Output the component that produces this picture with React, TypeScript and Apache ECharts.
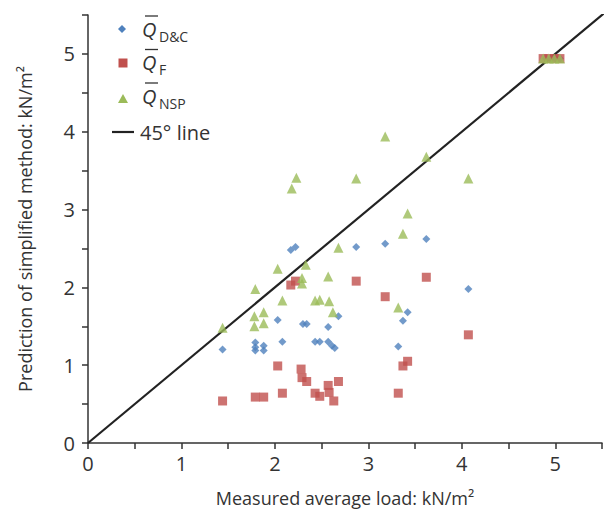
import React, { useEffect, useRef } from "react";
import * as echarts from "echarts";

const FONT = "'Open Sans', 'Noto Sans', sans-serif";
const TEXT = "#333333";
const BLUE = "#4f81bd";
const RED = "#c0504d";
const GREEN = "#9bbb59";

const xTicks = [0, 1, 2, 3, 4, 5];
const yTicks = [0, 1, 2, 3, 4, 5];

const dcPoints: [number, number][] = [
  [1.44, 1.2], [1.79, 1.29], [1.79, 1.23], [1.79, 1.19], [1.88, 1.25], [1.88, 1.19],
  [2.03, 1.58], [2.08, 1.3], [2.17, 2.48], [2.22, 2.52], [2.3, 1.53], [2.34, 1.53],
  [2.43, 1.3], [2.48, 1.3], [2.57, 1.49], [2.57, 1.3], [2.61, 1.25], [2.64, 1.22],
  [2.68, 1.63], [2.87, 2.52], [3.18, 2.56], [3.32, 1.24], [3.37, 1.57], [3.42, 1.68],
  [3.62, 2.62], [4.07, 1.98], [4.9, 4.94], [4.95, 4.94], [5.0, 4.94], [5.05, 4.94],
];

const fPoints: [number, number][] = [
  [1.44, 0.54], [1.79, 0.59], [1.88, 0.59], [2.03, 0.99], [2.08, 0.64], [2.17, 2.03],
  [2.22, 2.08], [2.28, 0.95], [2.29, 0.84], [2.34, 0.79], [2.43, 0.64], [2.48, 0.6],
  [2.57, 0.74], [2.58, 0.65], [2.63, 0.54], [2.68, 0.79], [2.87, 2.08], [3.18, 1.88],
  [3.32, 0.64], [3.37, 0.99], [3.42, 1.05], [3.62, 2.13], [4.07, 1.39],
  [4.87, 4.94], [4.93, 4.94], [4.99, 4.94], [5.05, 4.94],
];

const nspPoints: [number, number][] = [
  [1.44, 1.48], [1.78, 1.63], [1.78, 1.5], [1.79, 1.98], [1.88, 1.68], [1.88, 1.54],
  [2.03, 2.24], [2.08, 1.83], [2.18, 3.27], [2.23, 3.41], [2.29, 2.12], [2.29, 2.05],
  [2.33, 2.29], [2.43, 1.83], [2.48, 1.84], [2.57, 2.14], [2.58, 1.82], [2.62, 1.68],
  [2.68, 2.51], [2.87, 3.4], [3.18, 3.94], [3.32, 1.74], [3.37, 2.69], [3.42, 2.95],
  [3.62, 3.68], [4.07, 3.4], [4.87, 4.94], [4.93, 4.94], [4.99, 4.94], [5.05, 4.94],
];

const lineRange: [number, number][] = [[0, 0], [5.6, 5.6]];

const legendRows = [
  { sub: "D&C", y: 29 },
  { sub: "F", y: 62.5 },
  { sub: "NSP", y: 96 },
];

function intLabel(v: number, ticks: number[]) {
  return ticks.includes(v) ? String(v) : "";
}

export default function App() {
  const ref = useRef<HTMLDivElement>(null);
  useEffect(() => {
    const chart = echarts.init(ref.current!, null, { renderer: "svg" });
    const axisCommon = {
      type: "value" as const,
      min: 0,
      max: 5.5,
      interval: 0.5,
      nameLocation: "middle" as const,
      nameTextStyle: { fontFamily: FONT, fontSize: 18, color: TEXT },
      axisLine: { show: true, lineStyle: { color: "#333", width: 1.5 } },
      axisTick: { show: true, length: 6, lineStyle: { color: "#333", width: 1.5 } },
      splitLine: { show: false },
    };
    const legendGraphics: any[] = [];
    legendRows.forEach((r) => {
      legendGraphics.push({
        type: "text",
        x: 142,
        y: r.y,
        style: { text: "Q", fontFamily: FONT, fontSize: 20, fontStyle: "italic", fill: TEXT, verticalAlign: "middle" },
      });
      legendGraphics.push({
        type: "text",
        x: 159,
        y: r.y + 7,
        style: { text: r.sub, fontFamily: FONT, fontSize: 14, fill: TEXT, verticalAlign: "middle" },
      });
      legendGraphics.push({
        type: "line",
        shape: { x1: 145, y1: r.y - 13, x2: 158, y2: r.y - 13 },
        style: { stroke: TEXT, lineWidth: 1.3 },
      });
    });
    legendGraphics.push(
      { type: "polygon", shape: { points: [[122, 25], [126, 29], [122, 33], [118, 29]] }, style: { fill: BLUE } },
      { type: "rect", shape: { x: 118.5, y: 58.5, width: 9, height: 9 }, style: { fill: RED } },
      { type: "polygon", shape: { points: [[123, 94], [128, 103], [118, 103]] }, style: { fill: GREEN } },
      { type: "line", shape: { x1: 112, y1: 132, x2: 134, y2: 132 }, style: { stroke: "#222", lineWidth: 2.2 } },
      {
        type: "text",
        x: 140,
        y: 132,
        style: { text: "45° line", fontFamily: FONT, fontSize: 20, fill: TEXT, verticalAlign: "middle" },
      }
    );

    chart.setOption({
      animation: false,
      backgroundColor: "#ffffff",
      grid: { left: 88, top: 15, right: -7, bottom: 66, containLabel: false },
      xAxis: {
        ...axisCommon,
        name: "Measured average load: kN/m²",
        nameGap: 46,
        axisLabel: {
          fontFamily: FONT,
          fontSize: 20,
          color: TEXT,
          margin: 10,
          formatter: (v: number) => intLabel(v, xTicks),
        },
      },
      yAxis: {
        ...axisCommon,
        name: "Prediction of simplified method: kN/m²",
        nameGap: 54,
        axisLabel: {
          fontFamily: FONT,
          fontSize: 20,
          color: TEXT,
          margin: 13,
          formatter: (v: number) => intLabel(v, yTicks),
        },
      },
      graphic: legendGraphics,
      series: [
        {
          type: "line",
          data: lineRange,
          symbol: "none",
          lineStyle: { color: "#222", width: 2.2 },
          z: 1,
          clip: true,
        },
        { type: "scatter", name: "D&C", data: dcPoints, symbol: "diamond", symbolSize: 8, itemStyle: { color: BLUE }, z: 2 },
        { type: "scatter", name: "F", data: fPoints, symbol: "rect", symbolSize: 9, itemStyle: { color: RED }, z: 3 },
        { type: "scatter", name: "NSP", data: nspPoints, symbol: "triangle", symbolSize: 10, itemStyle: { color: GREEN }, z: 4 },
      ],
    });
    return () => chart.dispose();
  }, []);
  return <div ref={ref} style={{ position: "absolute", left: 0, top: 0, width: 605, height: 512 }} />;
}
